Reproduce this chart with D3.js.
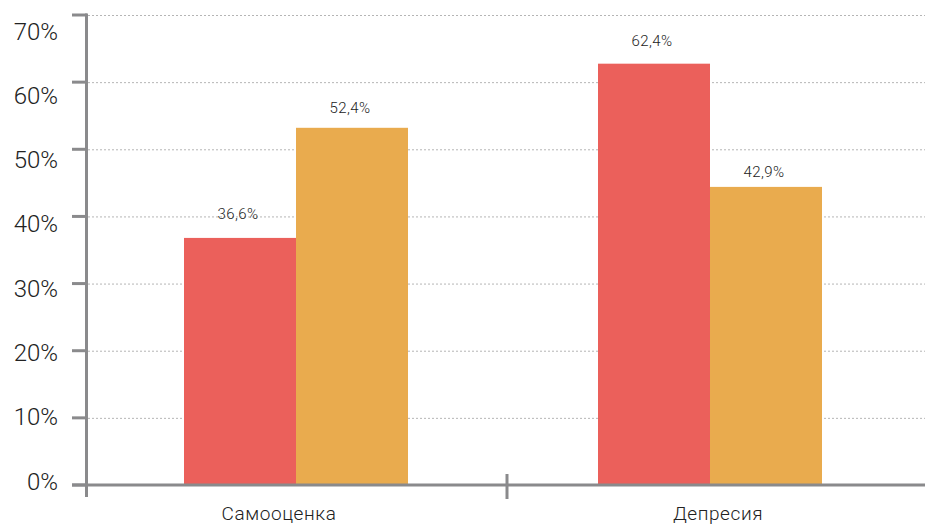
<!DOCTYPE html>
<html>
<head>
<meta charset="utf-8">
<script src="https://cdn.jsdelivr.net/npm/d3@7"></script>
<style>
  html, body { margin: 0; padding: 0; background: #fff; }
  svg { display: block; }
  text { font-family: Roboto, "Noto Sans", sans-serif; fill: #222; font-weight: 300; }
</style>
</head>
<body>
<svg id="chart" width="925" height="526"></svg>
<script>
// ---- data ----
const categories = ["Самооценка", "Депресия"];
const series = ["A", "B"];
// bar heights as drawn in the picture (percent)
const barValuesA = [36.8, 62.75];
const barValuesB = [53.2, 44.4];
// printed value labels (percent)
const labelValuesA = [36.6, 62.4];
const labelValuesB = [52.4, 42.9];
const yTicks = [0, 10, 20, 30, 40, 50, 60, 70];
const colors = ["#eb605b", "#e9ab4e"];

// ---- layout ----
const svg = d3.select("#chart");
const W = 925, H = 526;
const axisColor = "#8a8a8c";

const y = d3.scaleLinear().domain([0, 70]).range([485, 15]);
// tick labels are spread slightly differently in the reference
const yLabel = d3.scaleLinear().domain([0, 70]).range([481, 31]);

const x0 = d3.scaleBand().domain(categories).range([89, 917]).padding(0);
const groupW = 224;
const x1 = d3.scaleBand().domain(series).range([0, groupW]).padding(0);
const catLabelX = d3.scalePoint().domain(categories).range([279, 718]);

// gridlines
svg.append("g").selectAll("line")
  .data(yTicks.filter(d => d > 0))
  .join("line")
  .attr("x1", 88).attr("x2", W)
  .attr("y1", d => y(d) + 0.5).attr("y2", d => y(d) + 0.5)
  .attr("stroke", "#b5b5b5")
  .attr("stroke-width", 1)
  .attr("stroke-dasharray", "2,2");

// bars
const rows = categories.map((c, i) => ({
  cat: c,
  vals: [
    { s: "A", v: barValuesA[i], lab: labelValuesA[i] },
    { s: "B", v: barValuesB[i], lab: labelValuesB[i] }
  ]
}));

const g = svg.append("g").selectAll("g")
  .data(rows).join("g")
  .attr("transform", d => `translate(${x0(d.cat) + (x0.bandwidth() - groupW) / 2},0)`);

g.selectAll("rect")
  .data(d => d.vals).join("rect")
  .attr("x", d => x1(d.s))
  .attr("width", x1.bandwidth())
  .attr("y", d => y(d.v))
  .attr("height", d => y(0) - y(d.v))
  .attr("fill", (d, i) => colors[i]);

const fmt = v => d3.format(".1f")(v).replace(".", ",") + "%";
g.selectAll("text.val")
  .data(d => d.vals).join("text")
  .attr("class", "val")
  .attr("x", d => x1(d.s) + x1.bandwidth() / 2 - 2)
  .attr("y", d => y(d.lab) - 20)
  .attr("text-anchor", "middle")
  .attr("font-size", 15)
  .attr("letter-spacing", 0.4)
  .text(d => fmt(d.lab));

// y axis
const yAxis = svg.append("g");
yAxis.append("line")
  .attr("x1", 86.5).attr("x2", 86.5)
  .attr("y1", 13.5).attr("y2", 497)
  .attr("stroke", axisColor).attr("stroke-width", 3);
yAxis.selectAll("line.tick")
  .data(yTicks).join("line")
  .attr("class", "tick")
  .attr("x1", 72).attr("x2", 87)
  .attr("y1", d => y(d)).attr("y2", d => y(d))
  .attr("stroke", axisColor).attr("stroke-width", 3);
yAxis.selectAll("text")
  .data(yTicks).join("text")
  .attr("x", 58)
  .attr("y", d => yLabel(d))
  .attr("dy", "0.36em")
  .attr("text-anchor", "end")
  .attr("font-size", 24)
  .text(d => d + "%");

// x axis
const xAxis = svg.append("g");
xAxis.append("line")
  .attr("x1", 72).attr("x2", W)
  .attr("y1", y(0)).attr("y2", y(0))
  .attr("stroke", axisColor).attr("stroke-width", 3);
xAxis.selectAll("line.sep")
  .data(categories.slice(1)).join("line")
  .attr("class", "sep")
  .attr("x1", d => x0(d) + 4).attr("x2", d => x0(d) + 4)
  .attr("y1", 474).attr("y2", 499)
  .attr("stroke", axisColor).attr("stroke-width", 3);
xAxis.selectAll("text")
  .data(categories).join("text")
  .attr("x", d => catLabelX(d))
  .attr("y", 519.5)
  .attr("text-anchor", "middle")
  .attr("font-size", 19)
  .attr("letter-spacing", 0.6)
  .text(d => d);
</script>
</body>
</html>
